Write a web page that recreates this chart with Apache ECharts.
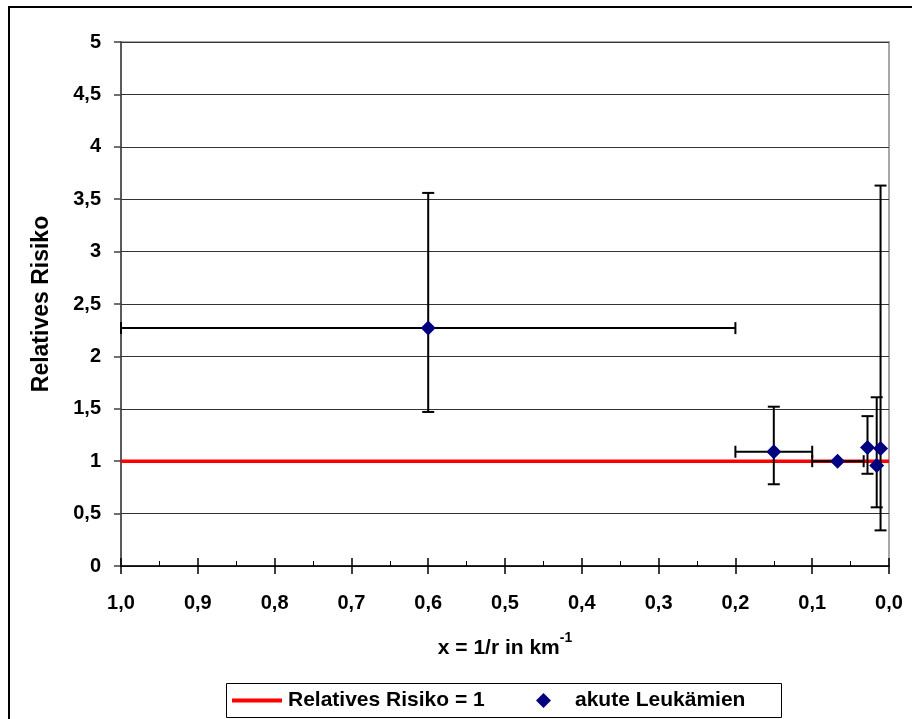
<!DOCTYPE html>
<html>
<head>
<meta charset="utf-8">
<script src="https://cdn.jsdelivr.net/npm/echarts@6/dist/echarts.min.js"></script>
<style>
html,body{margin:0;padding:0;background:#fff;}
#chart{width:912px;height:719px;}
</style>
</head>
<body>
<div id="chart"></div>
<script>
// ---- Data ----
const seriesNames = ['Relatives Risiko = 1', 'akute Leukämien'];
const refLine = [[1.0, 1], [0.0, 1]];
const xVals = [0.600, 0.150, 0.067, 0.028, 0.016, 0.011];
const yVals = [2.27, 1.09, 1.00, 1.13, 0.96, 1.12];
const xErrLow = [0.200, 0.100, 0.033, null, null, null];
const xErrHigh = [1.000, 0.200, 0.100, null, null, null];
const yErrLow = [1.47, 0.78, null, 0.88, 0.56, 0.34];
const yErrHigh = [3.56, 1.52, null, 1.43, 1.61, 3.63];
const xTicks = { min: 0, max: 1, interval: 0.1 };
const yTicks = { min: 0, max: 5, interval: 0.5 };
const xTitle = 'x = 1/r in km';
const xTitleSup = '-1';
const yTitle = 'Relatives Risiko';

const FONT = "'Liberation Sans', Arial, sans-serif";
const scatterData = xVals.map((x, i) => [x, yVals[i]]);
const errData = xVals.map((x, i) => [x, yVals[i],
  xErrLow[i] == null ? NaN : xErrLow[i], xErrHigh[i] == null ? NaN : xErrHigh[i],
  yErrLow[i] == null ? NaN : yErrLow[i], yErrHigh[i] == null ? NaN : yErrHigh[i]]);

const chart = echarts.init(document.getElementById('chart'), null, { renderer: 'canvas' });
const CAP = 6;
const errStyle = { stroke: '#000', lineWidth: 2 };

function renderErr(params, api) {
  const x = api.value(0), y = api.value(1);
  const xl = api.value(2), xh = api.value(3), yl = api.value(4), yh = api.value(5);
  const children = [];
  if (!isNaN(yl) && !isNaN(yh)) {
    const a = api.coord([x, yl]), b = api.coord([x, yh]);
    children.push({ type: 'line', shape: { x1: a[0], y1: a[1], x2: b[0], y2: b[1] }, style: errStyle });
    children.push({ type: 'line', shape: { x1: a[0] - CAP, y1: a[1], x2: a[0] + CAP, y2: a[1] }, style: errStyle });
    children.push({ type: 'line', shape: { x1: b[0] - CAP, y1: b[1], x2: b[0] + CAP, y2: b[1] }, style: errStyle });
  }
  if (!isNaN(xl) && !isNaN(xh)) {
    const a = api.coord([xl, y]), b = api.coord([xh, y]);
    children.push({ type: 'line', shape: { x1: a[0], y1: a[1], x2: b[0], y2: b[1] }, style: errStyle });
    children.push({ type: 'line', shape: { x1: a[0], y1: a[1] - CAP, x2: a[0], y2: a[1] + CAP }, style: errStyle });
    children.push({ type: 'line', shape: { x1: b[0], y1: b[1] - CAP, x2: b[0], y2: b[1] + CAP }, style: errStyle });
  }
  return { type: 'group', children };
}

const labelStyle = { color: '#000', fontFamily: FONT, fontWeight: 'bold', fontSize: 20 };
const legendText = { color: '#000', fontFamily: FONT, fontWeight: 'bold', fontSize: 21 };

const option = {
  animation: false,
  backgroundColor: '#fff',
  grid: { left: 121, right: 23, top: 42, bottom: 153, show: true, borderColor: '#a8a8a8', borderWidth: 2, backgroundColor: 'transparent' },
  graphic: [{
    type: 'rect', silent: true, z: 100,
    shape: { x: 9, y: 7, width: 1000, height: 1000 },
    style: { fill: 'none', stroke: '#000', lineWidth: 2 }
  }, {
    type: 'rect', silent: true, z: 0,
    shape: { x: 226.5, y: 683.5, width: 555, height: 34 },
    style: { fill: '#fff', stroke: '#000', lineWidth: 1 }
  }],
  legend: [{
    data: [{ name: seriesNames[0], icon: 'rect' }],
    left: 232, top: 690, padding: 0,
    itemWidth: 50, itemHeight: 4,
    textStyle: Object.assign({ padding: [0, 0, 0, 1] }, legendText)
  }, {
    data: [{ name: seriesNames[1], icon: 'diamond' }],
    left: 536, top: 690, padding: 0,
    itemWidth: 15, itemHeight: 15,
    textStyle: Object.assign({ padding: [0, 0, 0, 19] }, legendText)
  }],
  xAxis: [{
    type: 'value', inverse: true, position: 'bottom',
    min: xTicks.min, max: xTicks.max, interval: xTicks.interval,
    name: '{a|' + xTitle + '}{s|' + xTitleSup + '}',
    nameLocation: 'middle', nameGap: 62,
    nameTextStyle: {
      rich: {
        a: { fontFamily: FONT, fontWeight: 'bold', fontSize: 21, color: '#000', padding: [10, 0, 0, 0] },
        s: { fontFamily: FONT, fontWeight: 'bold', fontSize: 14, color: '#000', padding: [0, 0, 10, 0] }
      }
    },
    axisLine: { show: true, onZero: false, lineStyle: { color: '#000', width: 1.5 } },
    axisTick: { show: true, inside: false, length: 8, lineStyle: { color: '#000', width: 1.5 } },
    axisLabel: Object.assign({ margin: 27, formatter: v => v.toFixed(1).replace('.', ',') }, labelStyle),
    splitLine: { show: false }
  }, {
    type: 'value', inverse: true, position: 'bottom', offset: 0,
    min: xTicks.min, max: xTicks.max, interval: xTicks.interval,
    axisLine: { show: false },
    axisTick: { show: true, inside: true, length: 8, lineStyle: { color: '#000', width: 1.5 } },
    minorTick: { show: true, splitNumber: 2, length: 5, lineStyle: { color: '#000', width: 1 } },
    axisLabel: { show: false },
    splitLine: { show: false }
  }],
  yAxis: {
    type: 'value',
    min: yTicks.min, max: yTicks.max, interval: yTicks.interval,
    name: yTitle, nameLocation: 'middle', nameGap: 68,
    nameTextStyle: { color: '#000', fontFamily: FONT, fontWeight: 'bold', fontSize: 23 },
    axisLine: { show: true, onZero: false, lineStyle: { color: '#404040', width: 1.5 } },
    axisTick: { show: true, inside: false, length: 7, lineStyle: { color: '#404040', width: 1.5 } },
    axisLabel: Object.assign({ margin: 20, formatter: v => String(v).replace('.', ',') }, labelStyle),
    splitLine: { show: true, lineStyle: { color: '#333', width: 1 } }
  },
  series: [{
    name: seriesNames[0], type: 'line', data: refLine,
    symbol: 'none', z: 2,
    lineStyle: { color: '#ff0000', width: 3.5 }, itemStyle: { color: '#ff0000' }
  }, {
    name: 'errorbars', type: 'custom', renderItem: renderErr, data: errData,
    encode: { x: 0, y: 1 }, z: 3, silent: true
  }, {
    name: seriesNames[1], type: 'scatter', data: scatterData,
    symbol: 'diamond', symbolSize: 15, z: 4,
    itemStyle: { color: '#000080', opacity: 1 }
  }]
};
chart.setOption(option);
</script>
</body>
</html>
